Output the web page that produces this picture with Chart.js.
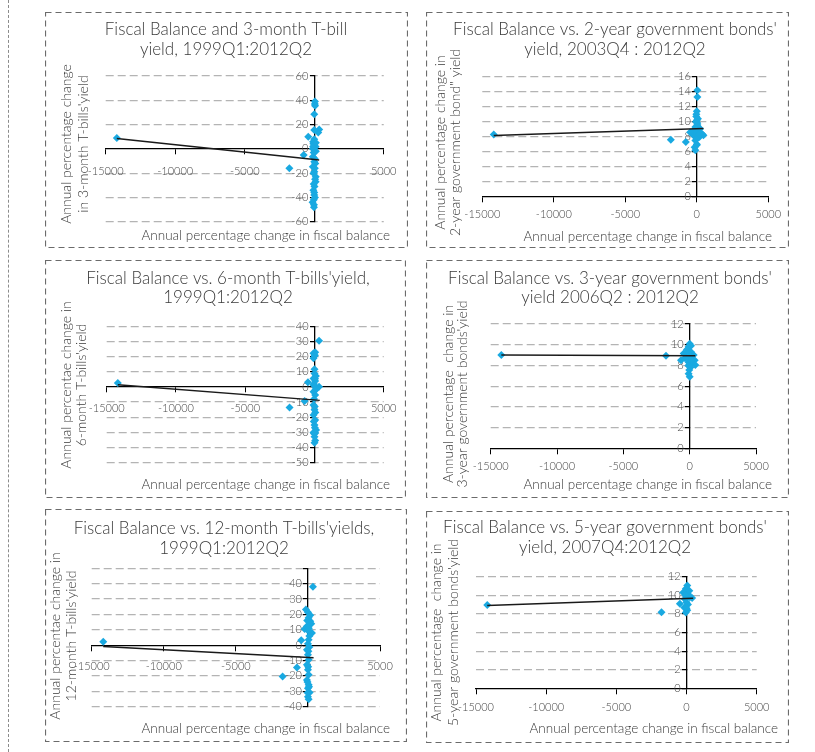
<!DOCTYPE html>
<html>
<head>
<meta charset="utf-8">
<script src="https://cdn.jsdelivr.net/npm/chart.js@4.4.0/dist/chart.umd.min.js"></script>
<style>
  body { margin: 0; background: #fff; }
  #page { position: relative; width: 815px; height: 752px; overflow: hidden; }
  #page canvas { position: absolute; }
  .edge { position: absolute; left: 8px; top: 0; height: 752px; border-left: 1px dashed #8c8c8c; }
</style>
</head>
<body>
<div id="page"><div class="edge"></div></div>
<script>
// x axis ticks (annual % change in fiscal balance)
const xTicks = [-15000, -10000, -5000, 0, 5000];

// y axis ticks per chart
const yTicks3m = [-60, -40, -20, 0, 20, 40, 60];
const yTicks6m = [-50, -40, -30, -20, -10, 0, 10, 20, 30, 40];
const yTicks12m = [-40, -30, -20, -10, 0, 10, 20, 30, 40, 50];
const yTicks2y = [0, 2, 4, 6, 8, 10, 12, 14, 16];
const yTicks3y = [0, 2, 4, 6, 8, 10, 12];
const yTicks5y = [0, 2, 4, 6, 8, 10, 12];

// [fiscal balance change, yield change]
const tbill3m = [
  [-14200, 9], [-1790, -16], [-760, -5], [-430, 10], [357, 16], [290, 13.5],
  [50, 39], [40, 37], [60, 35.5], [0, 28.5], [0, 15.5], [-80, 5.8], [20, 3],
  [-100, 0], [120, -2], [-60, 4.2], [100, 1.8], [-100, -6.5], [0, -10.6],
  [-100, -14.7], [10, -18.8], [110, -23], [100, -27], [20, -31], [-60, -34],
  [0, -38], [-30, -42], [-20, -46], [-20, -48], [60, -25], [-50, -20], [30, -8],
  [80, -12], [-40, -3], [0, -36], [50, -40], [-80, 2], [40, -16], [0, 8],
  [-40, -29], [120, 5], [-120, -44]
];
const trend3m = [[-14200, 8.6], [357, -9.1]];

const bond2y = [
  [-14200, 8.3], [-1818, 7.6], [-769, 7.3], [-466, 8.6], [-233, 8.2], [350, 8.4],
  [466, 8.2], [186, 7.95], [40, 14.2], [40, 13.3], [0, 11.4], [-40, 10.7],
  [0, 10.2], [40, 9.7], [-100, 9.3], [40, 8.9], [40, 8.6], [230, 9.05],
  [-100, 7.5], [0, 7.0], [-150, 6.6], [-100, 6.2], [100, 8.0], [-50, 8.4],
  [60, 9.4], [-60, 10.0], [120, 8.7], [-200, 8.8], [20, 7.8], [-30, 11.0],
  [80, 10.4], [-120, 9.0], [150, 8.3], [0, 6.9], [10, 9.9]
];
const trend2y = [[-14200, 8.15], [466, 9.1]];

const tbill6m = [
  [-14200, 2.6], [-1800, -13.7], [-710, -9.3], [-473, 3.1], [331, 30.7], [331, 0.2],
  [-70, 22.3], [0, 20.5], [-70, 19], [50, 23], [0, 11.7], [100, 7.3], [-70, 5.7],
  [50, 4], [-70, 1.3], [120, -0.9], [-70, -3.1], [50, -5.3], [-70, -11.9],
  [0, -15.2], [-70, -18.6], [50, -21.9], [0, -25.2], [120, -28.5], [-70, -30.3],
  [0, -33], [50, -35.6], [0, -37], [30, 21], [-40, 2], [80, -2], [-30, -8],
  [20, -13], [60, -17], [-50, -23], [30, -27], [-20, -31], [60, -30.5], [0, 9],
  [40, 5.5]
];
const trend6m = [[-14200, 1.4], [379, -8.9]];

const bond3y = [
  [-14200, 9.0], [-1784, 8.94], [0, 10.1], [-80, 9.8], [-200, 9.55], [100, 9.3],
  [-452, 9.16], [300, 9.0], [-276, 8.8], [50, 8.65], [-653, 8.5], [377, 8.5],
  [-80, 8.3], [170, 8.2], [427, 8.04], [-30, 7.55], [-80, 7.2], [0, 6.9],
  [100, 9.9], [-150, 9.2], [40, 8.9], [200, 8.6], [-100, 8.0], [50, 7.8], [-350, 8.7]
];
const trend3y = [[-14200, 9.0], [427, 8.93]];

const tbill12m = [
  [-14200, 2.3], [-1757, -20.4], [-763, -14.5], [-462, 3.2], [347, 38], [277, 8],
  [-139, 23.2], [0, 21.5], [162, 19.5], [50, 17.8], [162, 15.6], [231, 14],
  [-70, 12.3], [-231, 10.6], [0, 9.5], [50, 3.6], [0, 1], [100, -1.2], [-70, -2.9],
  [0, -6.2], [50, -9.5], [-70, -12.8], [0, -16], [50, -19.3], [-70, -22.6],
  [50, -25.8], [0, -28], [120, -30.8], [0, -33.5], [50, -35.2], [100, 6], [-50, 16],
  [30, -4], [-30, -24], [80, -27], [20, -14], [-20, -31], [60, 11]
];
const trend12m = [[-14200, -0.8], [393, -8.2]];

const bond5y = [
  [-14200, 8.96], [-1781, 8.18], [-475, 9.1], [50, 11.05], [-50, 10.7], [-238, 10.3],
  [120, 10.1], [-120, 9.6], [238, 9.8], [0, 9.24], [-160, 8.7], [50, 8.4],
  [-50, 8.15], [400, 9.7], [150, 9.9], [-80, 10.0], [100, 9.0], [0, 8.6], [200, 10.5]
];
const trend5y = [[-14200, 8.9], [475, 9.68]];

const xTitle = 'Annual percentage change in fiscal balance';

const BLUE = '#19a9e1';
const TEXT = '#3a3a3a';
const FONT = 'Lato, "Open Sans", sans-serif';

// layout of the six boxes (page pixels)
const panels = [
  { points: tbill3m, trend: trend3m, yTicks: yTicks3m,
    title: ['Fiscal Balance and 3-month T-bill', 'yield, 1999Q1:2012Q2'],
    yTitle: ['Annual percentage change', "in 3-month T-bills'yield"],
    box: { x: 45, y: 12, w: 363, h: 236 }, plot: { l: 105.7, r: 385.7, t: 76, b: 221.7 },
    titlePos: { cx: 226, ys: [29.3, 50] }, yTitlePos: { xs: [66.7, 83.3], cy: 144 },
    xTitlePos: { right: 390, y: 236 }, xPad: 11.5 },
  { points: bond2y, trend: trend2y, yTicks: yTicks2y,
    title: ["Fiscal Balance vs. 2-year government bonds'", 'yield, 2003Q4 : 2012Q2'],
    yTitle: ['Annual percentage change in', '2-year government bond" yield'],
    box: { x: 426, y: 12, w: 363, h: 236 }, plot: { l: 482.3, r: 768.3, t: 76.7, b: 196.7 },
    titlePos: { cx: 615, ys: [29.3, 50] }, yTitlePos: { xs: [440, 455], cy: 142.5 },
    xTitlePos: { right: 772, y: 236.7 }, xPad: 6 },
  { points: tbill6m, trend: trend6m, yTicks: yTicks6m,
    title: ["Fiscal Balance vs. 6-month T-bills'yield,", '1999Q1:2012Q2'],
    yTitle: ['Annual percentae change in', "6-month T-bills'yield"],
    box: { x: 45, y: 260, w: 361, h: 238 }, plot: { l: 106.7, r: 388.3, t: 326.7, b: 462.3 },
    titlePos: { cx: 228, ys: [278.3, 297.7] }, yTitlePos: { xs: [66.7, 81.7], cy: 385 },
    xTitlePos: { right: 390, y: 485 }, xPad: 9.5 },
  { points: bond3y, trend: trend3y, yTicks: yTicks3y,
    title: ["Fiscal Balance vs. 3-year government bonds'", 'yield 2006Q2 : 2012Q2'],
    yTitle: ['Annual percentage  change in', "3-year government bonds'yield"],
    box: { x: 426, y: 260, w: 363, h: 238 }, plot: { l: 490.7, r: 756, t: 324, b: 448.3 },
    titlePos: { cx: 610, ys: [278.3, 297.7] }, yTitlePos: { xs: [448, 462.7], cy: 394 },
    xTitlePos: { right: 772, y: 485 }, xPad: 6.5 },
  { points: tbill12m, trend: trend12m, yTicks: yTicks12m, hideTop: true,
    title: ["Fiscal Balance vs. 12-month T-bills'yields,", '1999Q1:2012Q2'],
    yTitle: ['Annual percentae change in', "12-month T-bills'yield"],
    box: { x: 45, y: 509, w: 362, h: 233 }, plot: { l: 91.7, r: 380, t: 568.3, b: 706.7 },
    titlePos: { cx: 224, ys: [529, 548.3] }, yTitlePos: { xs: [55, 71.7], cy: 636 },
    xTitlePos: { right: 390, y: 729 }, xPad: 9.5 },
  { points: bond5y, trend: trend5y, yTicks: yTicks5y,
    title: ["Fiscal Balance vs. 5-year government bonds'", 'yield, 2007Q4:2012Q2'],
    yTitle: ['Annual percentage  change in', "5-year government bonds'yield"],
    box: { x: 426, y: 511, w: 363, h: 232 }, plot: { l: 476, r: 756.7, t: 576.7, b: 688.3 },
    titlePos: { cx: 605, ys: [527.7, 547.7] }, yTitlePos: { xs: [436.7, 453.3], cy: 632.5 },
    xTitlePos: { right: 778, y: 729 }, xPad: 7.5 }
];

const page = document.getElementById('page');

function makePanel(p) {
  const canvas = document.createElement('canvas');
  canvas.width = p.box.w;
  canvas.height = p.box.h;
  canvas.style.left = p.box.x + 'px';
  canvas.style.top = p.box.y + 'px';
  page.appendChild(canvas);

  const yMin = p.yTicks[0];
  const yMax = p.yTicks[p.yTicks.length - 1];

  // frame and texts
  const panelText = {
    id: 'panelText',
    afterDraw(chart) {
      const ctx = chart.ctx;
      const ox = p.box.x, oy = p.box.y;
      ctx.save();
      ctx.setLineDash([6, 4]);
      ctx.strokeStyle = '#6b6b6b';
      ctx.lineWidth = 1.2;
      ctx.strokeRect(0.5, 0.5, p.box.w - 1, p.box.h - 1);
      ctx.setLineDash([]);

      ctx.fillStyle = TEXT;
      ctx.textBaseline = 'middle';
      ctx.textAlign = 'center';
      ctx.font = '300 17px ' + FONT;
      p.title.forEach((line, i) => ctx.fillText(line, p.titlePos.cx - ox, p.titlePos.ys[i] - oy));

      ctx.font = '300 14px ' + FONT;
      p.yTitle.forEach((line, i) => {
        ctx.save();
        ctx.translate(p.yTitlePos.xs[i] - ox, p.yTitlePos.cy - oy);
        ctx.rotate(-Math.PI / 2);
        ctx.fillText(line, 0, 0);
        ctx.restore();
      });

      ctx.font = '300 13.5px ' + FONT;
      ctx.textAlign = 'right';
      ctx.fillText(xTitle, p.xTitlePos.right - ox, p.xTitlePos.y - oy);
      ctx.restore();
    }
  };

  new Chart(canvas, {
    type: 'scatter',
    data: {
      datasets: [
        {
          data: p.points.map(([x, y]) => ({ x, y })),
          pointStyle: 'rectRot',
          pointRadius: 4,
          backgroundColor: BLUE,
          borderWidth: 0,
          order: 2
        },
        {
          type: 'line',
          data: p.trend.map(([x, y]) => ({ x, y })),
          borderColor: '#1a1a1a',
          borderWidth: 1.5,
          pointRadius: 0,
          fill: false,
          order: 1
        }
      ]
    },
    options: {
      responsive: false,
      animation: false,
      layout: {
        autoPadding: false,
        padding: {
          left: p.plot.l - p.box.x,
          right: p.box.x + p.box.w - p.plot.r,
          top: p.plot.t - p.box.y,
          bottom: p.box.y + p.box.h - p.plot.b
        }
      },
      plugins: { legend: { display: false }, tooltip: { enabled: false } },
      scales: {
        x: {
          type: 'linear',
          position: { y: 0 },
          min: xTicks[0],
          max: xTicks[xTicks.length - 1],
          afterBuildTicks: s => { s.ticks = xTicks.map(v => ({ value: v })); },
          ticks: {
            callback: v => String(v),
            font: { family: FONT, size: 11, weight: 300 },
            color: '#4a4a4a',
            padding: p.xPad,
            maxRotation: 0,
            autoSkip: false
          },
          grid: { drawOnChartArea: false, drawTicks: true, tickLength: 5, tickColor: '#000', color: '#000' },
          border: { color: '#000', width: 1.3 }
        },
        y: {
          type: 'linear',
          position: { x: 0 },
          min: yMin,
          max: yMax,
          afterBuildTicks: s => { s.ticks = p.yTicks.map(v => ({ value: v })); },
          ticks: {
            // labels sit at the axis line, so pad them with trailing spaces
            callback: v => (p.hideTop && v === yMax) ? '' : String(v) + '  ',
            font: { family: FONT, size: 11, weight: 300 },
            color: '#4a4a4a',
            autoSkip: false
          },
          grid: {
            color: c => (c.tick && c.tick.value === 0) ? 'rgba(0,0,0,0)' : '#b4b4b4',
            lineWidth: 1.2,
            tickColor: '#000',
            tickLength: 4
          },
          border: { color: '#000', width: 1.3, dash: [8, 4] }
        }
      }
    },
    plugins: [panelText]
  });
}

panels.forEach(makePanel);
</script>
</body>
</html>
